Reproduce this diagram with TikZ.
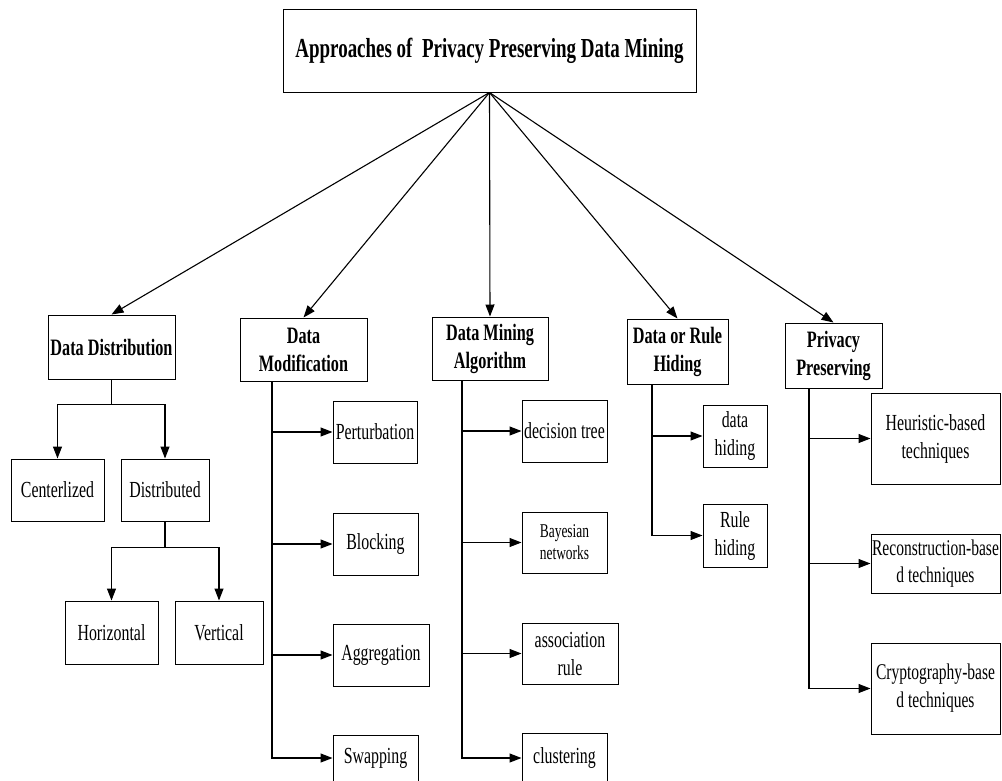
\documentclass[tikz,border=0pt]{standalone}
\usepackage{fontspec}
\setmainfont{Liberation Serif}[FakeStretch=0.69]
\usetikzlibrary{arrows.meta}
\begin{document}
\begin{tikzpicture}[x=1pt,y=-1pt,
  box/.style={draw, line width=1pt, inner sep=1pt, align=center, font=\fontsize{23}{28}\selectfont},
  hbox/.style={box, font=\bfseries\fontsize{23.5}{28}\selectfont},
  link/.style={line width=1.1pt},
  arr/.style={link, -{Triangle[length=12pt,width=9pt]}}]
\path[use as bounding box] (0,0) rectangle (1002,780);

% root
\node[box, font=\bfseries\fontsize{27.5}{32}\selectfont, minimum width=413, minimum height=83] (root) at (489.5,50.5) {Approaches of\ \ Privacy Preserving Data Mining};

% second level
\node[hbox, minimum width=127, minimum height=64] (dd) at (111.5,347) {Data Distribution};
\node[hbox, minimum width=127, minimum height=63] (dmod) at (303.5,349.5) {Data\\Modification};
\node[hbox, minimum width=116, minimum height=63] (dma) at (490,348.5) {Data Mining\\Algorithm};
\node[hbox, minimum width=101, minimum height=65] (drh) at (677.5,351.5) {Data or Rule\\Hiding};
\node[hbox, minimum width=97, minimum height=65] (pp) at (833.5,355.5) {Privacy\\Preserving};

\draw[arr] (root.south) -- (dd.north);
\draw[arr] (root.south) -- (dmod.north);
\draw[arr] (root.south) -- (dma.north);
\draw[arr] (root.south) -- (drh.north);
\draw[arr] (root.south) -- (pp.north);

% data distribution tree
\node[box, minimum width=93, minimum height=62] (cent) at (57.5,490) {Centerlized};
\node[box, minimum width=88, minimum height=62] (dist) at (165,490) {Distributed};
\node[box, minimum width=93, minimum height=63] (hor) at (111.5,632.5) {Horizontal};
\node[box, minimum width=88, minimum height=63] (vert) at (219,632.5) {Vertical};

\draw[arr] (dd.south) -- ++(0,25) -| (cent.north);
\draw[arr] (dd.south) -- ++(0,25) -| (dist.north);
\draw[arr] (dist.south) -- ++(0,26) -| (hor.north);
\draw[arr] (dist.south) -- ++(0,26) -| (vert.north);

% data modification
\coordinate (dmx) at (272,381);
\node[box, minimum width=84, minimum height=62] (pert) at (375,432) {Perturbation};
\node[box, minimum width=85, minimum height=62] (block) at (375.5,544) {Blocking};
\node[box, minimum width=96, minimum height=62] (aggr) at (381,655) {Aggregation};
\node[box, minimum width=85, minimum height=46] (swap) at (375.5,758) {Swapping};
\draw[arr] (dmx) |- (swap.west);
\draw[arr] (dmx |- pert.west) -- (pert.west);
\draw[arr] (dmx |- block.west) -- (block.west);
\draw[arr] (dmx |- aggr.west) -- (aggr.west);

% data mining algorithm
\coordinate (dmax) at (462,380);
\node[box, minimum width=85, minimum height=62] (dtree) at (564.5,431) {decision tree};
\node[box, font=\fontsize{19.5}{22}\selectfont, minimum width=85, minimum height=61] (bayes) at (564.5,542.5) {Bayesian\\networks};
\node[box, minimum width=96, minimum height=61] (assoc) at (570,653.5) {association\\rule};
\node[box, minimum width=85, minimum height=50] (clus) at (564.5,758) {clustering};
\draw[arr] (dmax) |- (clus.west);
\draw[arr] (dmax |- dtree.west) -- (dtree.west);
\draw[arr] (dmax |- bayes.west) -- (bayes.west);
\draw[arr] (dmax |- assoc.west) -- (assoc.west);

% data or rule hiding
\coordinate (drhx) at (652,384);
\node[box, minimum width=64, minimum height=62] (dhide) at (735,436) {data\\hiding};
\node[box, minimum width=64, minimum height=63] (rhide) at (735,535.5) {Rule\\hiding};
\draw[arr] (drhx) |- (rhide.west);
\draw[arr] (drhx |- dhide.west) -- (dhide.west);

% privacy preserving
\coordinate (ppx) at (809,388);
\node[box, minimum width=129, minimum height=91] (heur) at (935.5,438.5) {Heuristic-based\\techniques};
\node[box, font=\fontsize{22.5}{27}\selectfont, minimum width=129, minimum height=59] (recon) at (935.5,563.5) {Reconstruction-base\\d techniques};
\node[box, font=\fontsize{22.5}{28}\selectfont, minimum width=129, minimum height=91] (crypt) at (935.5,688.5) {Cryptography-base\\d techniques};
\draw[arr] (ppx) |- (crypt.west);
\draw[arr] (ppx |- heur.west) -- (heur.west);
\draw[arr] (ppx |- recon.west) -- (recon.west);
\end{tikzpicture}
\end{document}
